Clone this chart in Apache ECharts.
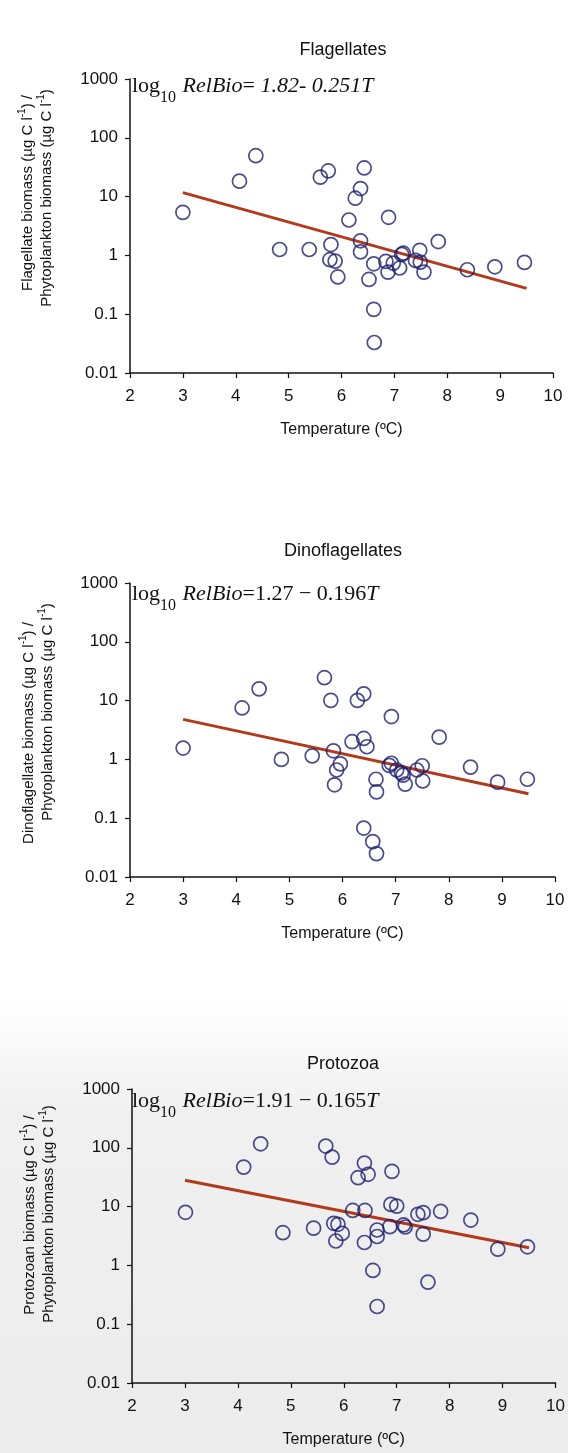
<!DOCTYPE html>
<html><head><meta charset="utf-8">
<script src="https://cdn.jsdelivr.net/npm/echarts@6/dist/echarts.min.js"></script>
<style>html,body{margin:0;padding:0;background:#fff}#c{width:568px;height:1453px}</style>
</head><body><div id="c"></div>
<script>
// ---- data ----
const xTickLabels = ['2','3','4','5','6','7','8','9','10'];
const yTickLabels = ['0.01','0.1','1','10','100','1000'];
const titles = ['Flagellates','Dinoflagellates','Protozoa'];
const yNames1 = ['Flagellate biomass (µg C l','Dinoflagellate biomass (µg C l','Protozoan biomass (µg C l'];

const flagT = [3.0,4.07,4.38,4.83,5.39,5.60,5.75,5.80,5.78,5.88,5.93,6.14,6.26,6.36,6.43,6.36,6.36,6.52,6.61,6.61,6.62,6.89,6.84,6.88,6.98,7.10,7.14,7.17,7.40,7.48,7.49,7.56,7.83,8.38,8.90,9.46];
const flagR = [5.4,18.3,49.6,1.26,1.26,21.4,27.3,1.53,0.845,0.80,0.43,4.0,9.4,13.7,30.7,1.77,1.15,0.39,0.72,0.121,0.033,4.45,0.79,0.52,0.74,0.61,1.04,1.09,0.82,1.22,0.77,0.52,1.72,0.57,0.64,0.76];
const flagLineT = [3.0, 9.5];
const flagLineR = [11.7, 0.275];

const dinoT = [3.0,4.11,4.43,4.85,5.43,5.66,5.78,5.83,5.96,5.89,5.85,6.18,6.28,6.40,6.40,6.46,6.63,6.64,6.40,6.57,6.64,6.92,6.88,6.92,7.02,7.14,7.18,7.40,7.50,7.51,7.82,8.41,8.92,9.48,7.11];
const dinoR = [1.56,7.5,15.8,1.0,1.15,24.5,10.1,1.40,0.84,0.66,0.37,2.0,10.1,13.0,2.27,1.64,0.46,0.28,0.068,0.040,0.025,5.35,0.79,0.86,0.66,0.54,0.38,0.66,0.78,0.43,2.39,0.74,0.41,0.46,0.59];
const dinoLineT = [3.0, 9.5];
const dinoLineR = [4.8, 0.26];

const protoT = [3.01,4.11,4.43,4.85,5.43,5.66,5.78,5.81,5.89,5.97,5.85,6.17,6.27,6.39,6.46,6.40,6.39,6.63,6.63,6.55,6.63,6.91,6.89,7.00,6.87,7.13,7.16,7.40,7.50,7.50,7.59,7.83,8.40,8.91,9.47];
const protoR = [8.0,47,117,3.6,4.3,107,69.5,5.2,5.0,3.5,2.6,8.6,31,55,35.4,8.6,2.45,4.0,3.1,0.82,0.20,39.8,10.9,10.2,4.56,4.87,4.5,7.4,7.9,3.4,0.52,8.3,5.9,1.89,2.07];
const protoLineT = [3.0, 9.5];
const protoLineR = [28, 2.0];

const panels = [
  {T: flagT, R: flagR, LT: flagLineT, LR: flagLineR},
  {T: dinoT, R: dinoR, LT: dinoLineT, LR: dinoLineR},
  {T: protoT, R: protoR, LT: protoLineT, LR: protoLineR}
];

// ---- layout ----
const grids = [
  {left: 130, top: 79, width: 423, height: 294},
  {left: 130, top: 583, width: 425, height: 294},
  {left: 132, top: 1089, width: 425, height: 294}
];
const titleY = [50, 551, 1064];
const eqY = [87, 595, 1102];
const yName1Pos = [[26, 193], [27, 733], [28, 1215]];
const yName2Pos = [[45, 198], [46, 712], [47, 1214]];

const axisColor = '#111';
const sans = 'Liberation Sans, Arial, sans-serif';
const serif = 'Liberation Serif, Times New Roman, serif';

function xAxis(i){
  return {
    gridIndex: i, type: 'value', min: 2, max: 10, interval: 1,
    axisLine: {lineStyle: {color: axisColor, width: 1.5}},
    axisTick: {inside: false, length: 5, lineStyle: {color: axisColor, width: 1.2}},
    axisLabel: {margin: 15, fontFamily: sans, fontSize: 17, color: '#111',
      formatter: v => xTickLabels[Math.round(v) - 2]},
    splitLine: {show: false},
    name: 'Temperature (ºC)', nameLocation: 'middle', nameGap: 49,
    nameTextStyle: {fontFamily: sans, fontSize: 16, color: '#111'}
  };
}
function yAxis(i){
  return {
    gridIndex: i, type: 'log', logBase: 10, min: 0.01, max: 1000,
    axisLine: {show: true, lineStyle: {color: axisColor, width: 1.5}},
    axisTick: {show: true, inside: false, length: 5, lineStyle: {color: axisColor, width: 1.2}},
    axisLabel: {margin: 12, fontFamily: sans, fontSize: 17, color: '#111',
      formatter: v => yTickLabels[Math.round(Math.log10(v)) + 2]},
    splitLine: {show: false},
    minorTick: {show: false}
  };
}

const series = [];
panels.forEach((p, i) => {
  series.push({
    type: 'scatter', xAxisIndex: i, yAxisIndex: i,
    data: p.T.map((t, k) => [t, p.R[k]]),
    symbol: 'circle', symbolSize: 14,
    itemStyle: {color: 'rgba(0,0,0,0)', borderColor: '#1d1f6e', borderWidth: 1.7},
    z: 3
  });
  series.push({
    type: 'line', xAxisIndex: i, yAxisIndex: i,
    data: p.LT.map((t, k) => [t, p.LR[k]]),
    showSymbol: false, symbol: 'none',
    lineStyle: {color: '#b23a1b', width: 3},
    z: 2
  });
});

const graphics = [];
// light grey scanned-paper tone behind the lowest panel
graphics.push({type: 'rect', z: -10, shape: {x: 0, y: 1000, width: 568, height: 453},
  style: {fill: new echarts.graphic.LinearGradient(0, 0, 0, 1, [
    {offset: 0, color: '#ffffff'}, {offset: 0.25, color: '#f0f0f0'}, {offset: 1, color: '#ececec'}])}});
titles.forEach((t, i) => {
  graphics.push({type: 'text', x: 343, y: titleY[i],
    style: {text: t, font: '18px ' + sans, fill: '#111', align: 'center', verticalAlign: 'middle'}});
});
const eqTexts = [
  '{a|log}{s|10}{i| RelBio}{a|= }{i|1.82- 0.251T}',
  '{a|log}{s|10}{i| RelBio}{a|=1.27 − 0.196}{i|T}',
  '{a|log}{s|10}{i| RelBio}{a|=1.91 − 0.165}{i|T}'
];
const eqRich = {
  a: {fontFamily: serif, fontSize: 22, lineHeight: 23, verticalAlign: 'top', fill: '#111'},
  i: {fontFamily: serif, fontSize: 22, fontStyle: 'italic', lineHeight: 23, verticalAlign: 'top', fill: '#111'},
  s: {fontFamily: serif, fontSize: 16, lineHeight: 16, padding: [14, 1, 0, 0], verticalAlign: 'top', fill: '#111'}
};
eqTexts.forEach((t, i) => {
  graphics.push({type: 'text', x: 132, y: eqY[i],
    style: {text: t, rich: eqRich, align: 'left', verticalAlign: 'middle', fill: '#111'}});
});
const nameRich = {
  n: {fontFamily: sans, fontSize: 15, lineHeight: 18, verticalAlign: 'bottom', fill: '#111'},
  sup: {fontFamily: sans, fontSize: 10, lineHeight: 10, verticalAlign: 'top', fill: '#111'}
};
yNames1.forEach((t, i) => {
  graphics.push({type: 'text', x: yName1Pos[i][0], y: yName1Pos[i][1], rotation: Math.PI / 2,
    style: {text: '{n|' + t + '}{sup|-1}{n|) /}', rich: nameRich, align: 'center', verticalAlign: 'middle'}});
  graphics.push({type: 'text', x: yName2Pos[i][0], y: yName2Pos[i][1], rotation: Math.PI / 2,
    style: {text: '{n|Phytoplankton biomass (µg C l}{sup|-1}{n|)}', rich: nameRich, align: 'center', verticalAlign: 'middle'}});
});

const chart = echarts.init(document.getElementById('c'), null, {renderer: 'canvas'});
chart.setOption({
  animation: false,
  backgroundColor: '#ffffff',
  grid: grids,
  xAxis: [0, 1, 2].map(xAxis),
  yAxis: [0, 1, 2].map(yAxis),
  series: series,
  graphic: graphics
});
</script></body></html>
